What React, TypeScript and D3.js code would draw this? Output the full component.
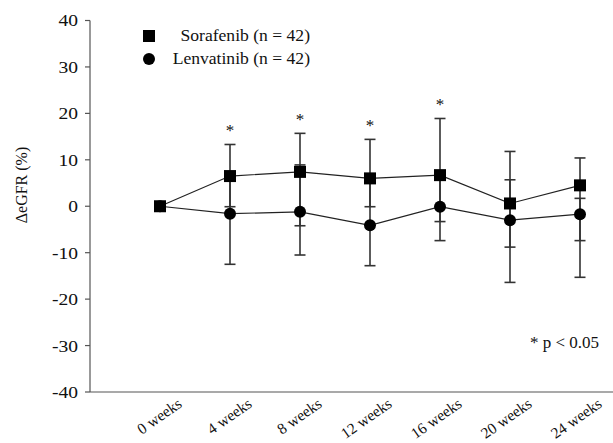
import React from 'react';
import * as d3 from 'd3';

const weeks = ['0 weeks', '4 weeks', '8 weeks', '12 weeks', '16 weeks', '20 weeks', '24 weeks'];
const soraMean = [0, 6.5, 7.4, 6.0, 6.7, 0.6, 4.5];
const soraUpper = [0, 13.3, 15.7, 14.4, 18.9, 11.8, 10.4];
const soraLower = [0, -0.1, -4.2, -0.1, -3.3, -8.8, -7.4];
const lenvMean = [0, -1.6, -1.2, -4.1, -0.1, -3.0, -1.7];
const lenvUpper = [0, 6.5, 8.9, 6.0, 6.7, 5.7, 1.7];
const lenvLower = [0, -12.5, -10.5, -12.8, -7.4, -16.4, -15.3];
const significant = [false, true, true, true, true, false, false];
const yTicks = [40, 30, 20, 10, 0, -10, -20, -30, -40];

const W = 613;
const H = 443;
const FONT = '"Liberation Serif", "Times New Roman", Times, serif';

export default function App() {
  const x = d3.scalePoint<string>().domain(weeks).range([160, 580]);
  const y = d3.scaleLinear().domain([-40, 40]).range([392, 20.5]);
  const axisX = 90;

  const line = d3.line<number>()
    .x((_, i) => x(weeks[i]) as number)
    .y(d => y(d));

  const errorBars = (lo: number[], hi: number[], key: string) =>
    weeks.map((w, i) => {
      if (lo[i] === hi[i]) return null;
      const cx = x(w) as number;
      return (
        <g key={key + i} stroke="#333" strokeWidth={1.6}>
          <line x1={cx} x2={cx} y1={y(lo[i])} y2={y(hi[i])} />
          <line x1={cx - 5.5} x2={cx + 5.5} y1={y(lo[i])} y2={y(lo[i])} />
          <line x1={cx - 5.5} x2={cx + 5.5} y1={y(hi[i])} y2={y(hi[i])} />
        </g>
      );
    });

  return (
    <svg width={W} height={H} style={{ position: 'absolute', left: 0, top: 0, background: '#fff' }}
      fontFamily={FONT}>
      {/* y axis */}
      <line x1={axisX} x2={axisX} y1={y(40)} y2={y(-40)} stroke="#555" strokeWidth={1.2} />
      {yTicks.map(t => (
        <g key={t} transform={`translate(0,${y(t)})`}>
          <line x1={axisX - 5} x2={axisX} stroke="#555" strokeWidth={1.2} />
          <text transform="translate(78,0) scale(1.15,1)" dy="0.35em" textAnchor="end"
            fontFamily={FONT} fontSize={17} fill="#111">{t}</text>
        </g>
      ))}
      <text transform={`translate(27,185) rotate(-90)`} textAnchor="middle"
        fontFamily={FONT} fontSize={16} fill="#111">
        ΔeGFR (%)
      </text>

      {/* x axis */}
      <line x1={axisX} x2={W} y1={y(-40)} y2={y(-40)} stroke="#555" strokeWidth={1.2} />
      {weeks.map(w => (
        <text key={w} transform={`translate(${(x(w) as number) + 23},${y(-40) + 14}) rotate(-35)`}
          textAnchor="end" fontFamily={FONT} fontSize={15.5} fill="#111">{w}</text>
      ))}

      {/* error bars */}
      {errorBars(lenvLower, lenvUpper, 'l')}
      {errorBars(soraLower, soraUpper, 's')}

      {/* lines */}
      <path d={line(lenvMean) || ''} fill="none" stroke="#222" strokeWidth={1.2} />
      <path d={line(soraMean) || ''} fill="none" stroke="#222" strokeWidth={1.2} />

      {/* markers */}
      {lenvMean.map((v, i) => (
        <circle key={'lc' + i} cx={x(weeks[i])} cy={y(v)} r={6} fill="#000" />
      ))}
      {soraMean.map((v, i) => (
        <rect key={'sr' + i} x={(x(weeks[i]) as number) - 6} y={y(v) - 6} width={12} height={12} fill="#000" />
      ))}

      {/* significance */}
      {weeks.map((w, i) => significant[i] ? (
        <text key={'st' + i} x={x(w)} y={y(soraUpper[i]) - 8} textAnchor="middle"
          fontFamily={FONT} fontSize={17} fill="#111">*</text>
      ) : null)}
      <text x={530} y={348} fontFamily={FONT} fontSize={17} fill="#111">* p &lt; 0.05</text>

      {/* legend */}
      <rect x={143} y={30} width={12} height={12} fill="#000" />
      <circle cx={149} cy={59} r={6} fill="#000" />
      <text transform="translate(310,41) scale(1.1,1)" textAnchor="end"
        fontFamily={FONT} fontSize={16} fill="#111">Sorafenib  (n = 42)</text>
      <text transform="translate(310,64) scale(1.1,1)" textAnchor="end"
        fontFamily={FONT} fontSize={16} fill="#111">Lenvatinib  (n = 42)</text>
    </svg>
  );
}
